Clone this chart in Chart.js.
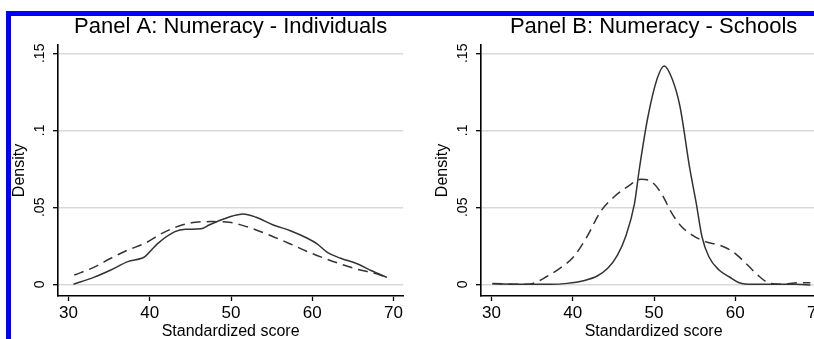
<!DOCTYPE html>
<html>
<head>
<meta charset="utf-8">
<script src="https://cdn.jsdelivr.net/npm/chart.js@4.4.1/dist/chart.umd.min.js"></script>
<style>
  html, body { margin: 0; padding: 0; background: #fff; overflow: hidden; width: 814px; height: 339px; }
  .frame { position: absolute; left: 6px; top: 11px; width: 900px; height: 400px;
           border-top: 5px solid #0000ff; border-left: 5px solid #0000ff; }
  canvas { position: absolute; top: 0; }
</style>
</head>
<body>
<div class="frame"></div>
<canvas id="panelA" width="405" height="345" style="left:0px"></canvas>
<canvas id="panelB" width="405" height="345" style="left:423px"></canvas>
<script>
// tick values / labels shared by both panels
const xTickValues = [30, 40, 50, 60, 70];
const yTickValues = [0, 0.05, 0.1, 0.15];
const yTickLabels = ["0", ".05", ".1", ".15"];

// Panel A: Numeracy - Individuals
const aSolidScore = [30.6, 33.1, 35.2, 37.3, 39.0, 39.4, 41.0, 43.1, 44.4, 46.3, 47.3, 48.5, 50.2, 51.5, 53.1, 55.2, 57.3, 59.4, 60.6, 61.9, 63.5, 65.6, 67.3, 69.2];
const aSolidDensity = [0.0, 0.0045, 0.0093, 0.0147, 0.0169, 0.018, 0.0266, 0.0342, 0.0357, 0.036, 0.0385, 0.0413, 0.0444, 0.0457, 0.0435, 0.0385, 0.0348, 0.0299, 0.0262, 0.0205, 0.0169, 0.0132, 0.0088, 0.0045];
const aDashScore = [30.7, 33.1, 35.2, 37.3, 39.4, 41.5, 43.6, 45.6, 47.7, 49.8, 51.5, 53.1, 55.2, 57.3, 59.4, 61.5, 63.5, 65.6, 67.7, 69.2];
const aDashDensity = [0.006, 0.011, 0.0169, 0.0223, 0.0266, 0.0331, 0.0379, 0.0403, 0.0407, 0.0403, 0.0381, 0.0353, 0.0309, 0.0262, 0.0212, 0.0169, 0.0132, 0.0097, 0.0071, 0.0045];

// Panel B: Numeracy - Schools
const bSolidScore = [30.1, 33.8, 37.2, 39.3, 41.3, 43.0, 44.3, 45.5, 46.5, 47.6, 48.2, 49.25, 50.4, 51.25, 52.25, 53.2, 54.4, 55.2, 55.9, 56.75, 58.0, 59.25, 60.5, 62.2, 65.1, 67.5, 69.25];
const bSolidDensity = [0.0003, 0.0, 0.0, 0.0006, 0.0023, 0.0054, 0.0104, 0.019, 0.0309, 0.0526, 0.0752, 0.1088, 0.1338, 0.1418, 0.1331, 0.1153, 0.0752, 0.0526, 0.0309, 0.0179, 0.0093, 0.0049, 0.001, 0.0, 0.0, 0.0, -0.0004];
const bDashScore = [30.1, 33.9, 35.1, 36.75, 38.4, 40.1, 41.75, 43.4, 45.1, 46.75, 48.4, 49.7, 50.9, 52.2, 53.4, 54.7, 56.3, 58.0, 59.7, 61.3, 63.0, 64.25, 65.9, 67.6, 69.25];
const bDashDensity = [0.0005, 0.0, 0.0006, 0.0049, 0.0104, 0.0179, 0.0309, 0.0471, 0.0569, 0.0634, 0.0682, 0.0666, 0.0591, 0.0461, 0.0374, 0.032, 0.0277, 0.0255, 0.0212, 0.0136, 0.0049, 0.0006, 0.0, 0.001, 0.001];

const FONT = '"Liberation Sans", Arial, Helvetica, sans-serif';
const lineColor = "#333333";

const zip = (xs, ys) => xs.map((x, i) => ({ x: x, y: ys[i] }));

// Stata-style y labels, rotated and centred on the tick
const rotatedYTicks = {
  id: "rotatedYTicks",
  afterDraw(chart) {
    const yScale = chart.scales.y;
    const ctx = chart.ctx;
    ctx.save();
    ctx.font = "14px " + FONT;
    ctx.fillStyle = "#000";
    ctx.textAlign = "center";
    ctx.textBaseline = "alphabetic";
    yTickValues.forEach((v, i) => {
      ctx.save();
      ctx.translate(yScale.right - 14.5, yScale.getPixelForValue(v));
      ctx.rotate(-Math.PI / 2);
      ctx.fillText(yTickLabels[i], 0, 0);
      ctx.restore();
    });
    ctx.restore();
  },
};

function makePanel(id, title, solidX, solidY, dashX, dashY) {
  new Chart(document.getElementById(id), {
    type: "line",
    data: {
      datasets: [
        {
          data: zip(solidX, solidY),
          borderColor: lineColor,
          borderWidth: 1.5,
          pointRadius: 0,
          cubicInterpolationMode: "monotone",
          fill: false,
        },
        {
          data: zip(dashX, dashY),
          borderColor: lineColor,
          borderWidth: 1.5,
          borderDash: [10, 6],
          pointRadius: 0,
          cubicInterpolationMode: "monotone",
          fill: false,
        },
      ],
    },
    options: {
      responsive: false,
      animation: false,
      layout: { padding: 0 },
      scales: {
        x: {
          type: "linear",
          min: 28.7,
          max: 71.2,
          afterBuildTicks: (s) => { s.ticks = xTickValues.map((v) => ({ value: v })); },
          afterFit: (s) => { s.height = 49; },
          ticks: { color: "#000", font: { family: FONT, size: 17 }, padding: 2, maxRotation: 0 },
          grid: { drawOnChartArea: false, drawTicks: true, tickLength: 5, tickColor: "#000", tickWidth: 1.3 },
          border: { color: "#000", width: 1.6 },
          title: {
            display: true,
            text: "Standardized score",
            color: "#000",
            font: { family: FONT, size: 16 },
            padding: { top: 0, bottom: 3.4 },
          },
        },
        y: {
          min: -0.0076,
          max: 0.1554,
          afterBuildTicks: (s) => { s.ticks = yTickValues.map((v) => ({ value: v })); },
          afterFit: (s) => { s.width = 58; },
          ticks: { display: false },
          grid: { color: "#d9d9d9", lineWidth: 1.4, drawTicks: true, tickLength: 5, tickColor: "#000", tickWidth: 1.3 },
          border: { color: "#000", width: 1.6 },
          title: {
            display: true,
            text: "Density",
            color: "#000",
            font: { family: FONT, size: 16 },
            padding: { top: 9.9, bottom: 0 },
          },
        },
      },
      plugins: {
        legend: { display: false },
        tooltip: { enabled: false },
        title: {
          display: true,
          text: title,
          fullSize: false,
          color: "#000",
          font: { family: FONT, size: 22, weight: "normal" },
          padding: { top: 13.5, bottom: 5.1 },
        },
      },
    },
    plugins: [rotatedYTicks],
  });
}

makePanel("panelA", "Panel A: Numeracy - Individuals", aSolidScore, aSolidDensity, aDashScore, aDashDensity);
makePanel("panelB", "Panel B: Numeracy - Schools", bSolidScore, bSolidDensity, bDashScore, bDashDensity);
</script>
</body>
</html>
